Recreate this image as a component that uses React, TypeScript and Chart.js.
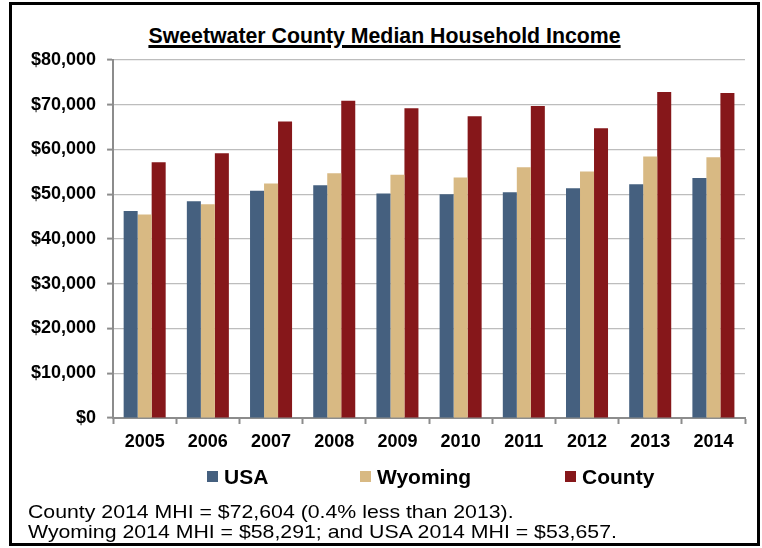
import React, { useEffect, useRef } from "react";
import { Chart, registerables } from "chart.js";

Chart.register(...registerables);

const years = ["2005", "2006", "2007", "2008", "2009", "2010", "2011", "2012", "2013", "2014"];
const usaValues = [46230, 48460, 50760, 52030, 50160, 50020, 50460, 51360, 52250, 53657];
const wyomingValues = [45470, 47790, 52390, 54710, 54330, 53730, 56050, 55070, 58420, 58291];
const countyValues = [57170, 59170, 66230, 70920, 69210, 67430, 69730, 64750, 72860, 72604];
const seriesNames = ["USA", "Wyoming", "County"];
const seriesColors = ["#45607F", "#D8B983", "#86171A"];
const yMin = 0;
const yMax = 80000;
const yStep = 10000;
const chartTitle = "Sweetwater County Median Household Income";
const notes = [
  "County 2014 MHI = $72,604 (0.4% less than 2013).",
  "Wyoming 2014 MHI = $58,291; and USA 2014 MHI = $53,657.",
];

const FONT = "'Liberation Sans', Arial, Helvetica, sans-serif";

function formatDollar(v: number): string {
  return "$" + Math.round(v).toLocaleString("en-US");
}

export default function App() {
  const canvasRef = useRef<HTMLCanvasElement | null>(null);

  useEffect(() => {
    if (!canvasRef.current) return;
    const seriesValues = [usaValues, wyomingValues, countyValues];
    const chart = new Chart(canvasRef.current, {
      type: "bar",
      data: {
        labels: years,
        datasets: seriesNames.map((name, i) => ({
          label: name,
          data: seriesValues[i],
          backgroundColor: seriesColors[i],
          borderWidth: 0,
          categoryPercentage: 0.665,
          barPercentage: 1,
        })),
      },
      options: {
        responsive: true,
        maintainAspectRatio: false,
        animation: false,
        layout: { padding: { left: 20, right: 17, top: 60, bottom: 88.4 } },
        plugins: {
          legend: { display: false },
          title: { display: false },
          tooltip: { enabled: false },
        },
        scales: {
          x: {
            grid: {
              display: true,
              drawOnChartArea: false,
              drawTicks: true,
              tickLength: 6,
              tickColor: "#8C8C8C",
              tickWidth: 2,
            },
            border: { display: true, color: "#8C8C8C", width: 2 },
            ticks: {
              color: "#000000",
              padding: 7,
              font: { family: FONT, size: 18, weight: "bold" },
            },
          },
          y: {
            min: yMin,
            max: yMax,
            grid: {
              color: "#BDBDBD",
              lineWidth: 1.2,
              drawTicks: true,
              tickLength: 6,
              tickColor: "#8C8C8C",
              tickWidth: 2,
            },
            border: { display: true, color: "#8C8C8C", width: 2 },
            ticks: {
              stepSize: yStep,
              color: "#000000",
              padding: 11,
              font: { family: FONT, size: 18, weight: "bold" },
              callback: (v: any) => formatDollar(Number(v)),
            },
          },
        },
      },
    });
    return () => chart.destroy();
  }, []);

  const legendLefts = [207, 360, 565];

  return (
    <div style={{ position: "fixed", left: 0, top: 0, width: 762, height: 548, background: "#ffffff", fontFamily: FONT }}>
      <div
        style={{
          position: "absolute",
          left: 9,
          top: 2,
          width: 751,
          height: 544,
          border: "3px solid #000000",
          boxSizing: "border-box",
        }}
      />
      <div
        style={{
          position: "absolute",
          left: 9,
          top: 26,
          width: 751,
          textAlign: "center",
          fontSize: "21.3px",
          lineHeight: "21.3px",
          fontWeight: "bold",
          color: "#000",
          textDecoration: "underline",
          textDecorationThickness: "3px",
          textUnderlineOffset: "1.5px",
          whiteSpace: "nowrap",
        }}
      >
        {chartTitle}
      </div>
      <div style={{ position: "absolute", left: 0, top: 0, width: 762, height: 548 }}>
        <canvas ref={canvasRef} />
      </div>
      {seriesNames.map((name, i) => (
        <div
          key={name}
          style={{
            position: "absolute",
            left: legendLefts[i],
            top: 465.5,
            height: 21,
            display: "flex",
            alignItems: "flex-start",
            whiteSpace: "nowrap",
          }}
        >
          <span
            style={{
              display: "inline-block",
              width: 11,
              height: 11,
              marginTop: 5.5,
              background: seriesColors[i],
            }}
          />
          <span
            style={{
              marginLeft: 6,
              fontSize: 21,
              lineHeight: "21px",
              fontWeight: "bold",
              color: "#000",
            }}
          >
            {name}
          </span>
        </div>
      ))}
      {notes.map((line, i) => (
        <div
          key={i}
          style={{
            position: "absolute",
            left: 28,
            top: 502.4 + i * 20,
            fontSize: 19,
            lineHeight: "20px",
            color: "#000",
            whiteSpace: "nowrap",
            transform: "scaleX(1.12)",
            transformOrigin: "left top",
          }}
        >
          {line}
        </div>
      ))}
    </div>
  );
}
